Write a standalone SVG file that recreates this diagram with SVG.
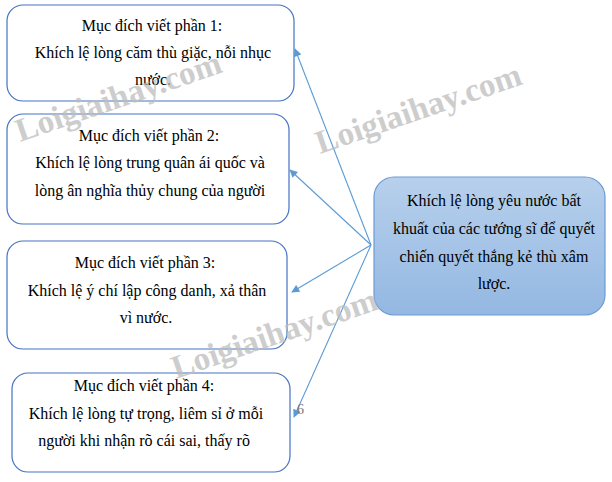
<svg xmlns="http://www.w3.org/2000/svg" width="612" height="482" viewBox="0 0 612 482">
<style>
.box{fill:#fff;stroke:#4472c4;stroke-width:1.2}
.t{font-family:"Liberation Serif","Times New Roman",serif;font-size:16px;fill:#000;text-anchor:middle}
.wm{font-family:"Liberation Serif",serif;font-weight:bold;font-size:33px;fill:#bdbdbd;opacity:0.75}
.c{stroke:#5b9bd5;stroke-width:1.1;fill:none;marker-end:url(#ah)}
</style>
<defs>
<marker id="ah" viewBox="0 0 10 10" refX="9" refY="5" markerWidth="10" markerHeight="8" markerUnits="userSpaceOnUse" orient="auto">
<path d="M0,0 L10,5 L0,10 z" fill="#5b9bd5"/>
</marker>
<linearGradient id="g" x1="0" y1="0" x2="0" y2="1">
<stop offset="0" stop-color="#b7d0ec"/>
<stop offset="1" stop-color="#94b8e2"/>
</linearGradient>
</defs>
<g id="node1">
<rect class="box" x="7" y="5" width="287" height="96" rx="16"/>
<text class="t" x="152" y="31">Mục đích viết phần 1:</text>
<text class="t" x="153" y="58">Khích lệ lòng căm thù giặc, nỗi nhục</text>
<text class="t" x="153" y="85">nước.</text>
</g>
<g id="node2">
<rect class="box" x="7" y="114" width="282" height="110" rx="16"/>
<text class="t" x="149" y="141">Mục đích viết phần 2:</text>
<text class="t" x="150" y="168">Khích lệ lòng trung quân ái quốc và</text>
<text class="t" x="150" y="196">lòng ân nghĩa thủy chung của người</text>
</g>
<g id="node3">
<rect class="box" x="7" y="241" width="280" height="108" rx="16"/>
<text class="t" x="145" y="268">Mục đích viết phần 3:</text>
<text class="t" x="147" y="296">Khích lệ ý chí lập công danh, xả thân</text>
<text class="t" x="146" y="323">vì nước.</text>
</g>
<g id="node4">
<rect class="box" x="12" y="373" width="278" height="99" rx="16"/>
<text class="t" x="144" y="391">Mục đích viết phần 4:</text>
<text class="t" x="146" y="419">Khích lệ lòng tự trọng, liêm sỉ ở mỗi</text>
<text class="t" x="144" y="446">người khi nhận rõ cái sai, thấy rõ</text>
</g>
<g id="node5">
<rect x="374" y="177" width="231" height="138" rx="20" fill="url(#g)" stroke="#6c9bd2" stroke-width="1.2"/>
<text class="t" x="494" y="206">Khích lệ lòng yêu nước bất</text>
<text class="t" x="494" y="234">khuất của các tướng sĩ để quyết</text>
<text class="t" x="494" y="262">chiến quyết thắng kẻ thù xâm</text>
<text class="t" x="494" y="289">lược.</text>
</g>
<g id="connectors">
<line class="c" x1="371" y1="245" x2="295" y2="49"/>
<line class="c" x1="371" y1="245" x2="290" y2="170"/>
<line class="c" x1="371" y1="245" x2="292" y2="292"/>
<line class="c" x1="371" y1="245" x2="294" y2="417"/>
</g>
<text x="297" y="414" font-family="Liberation Serif,serif" font-size="14" fill="#777">6</text>
<g id="watermarks">
<text class="wm" transform="translate(20,142) rotate(-19)">Loigiaihay.com</text>
<text class="wm" transform="translate(320,154) rotate(-19)">Loigiaihay.com</text>
<text class="wm" transform="translate(176,379) rotate(-19)">Loigiaihay.com</text>
</g>
</svg>
